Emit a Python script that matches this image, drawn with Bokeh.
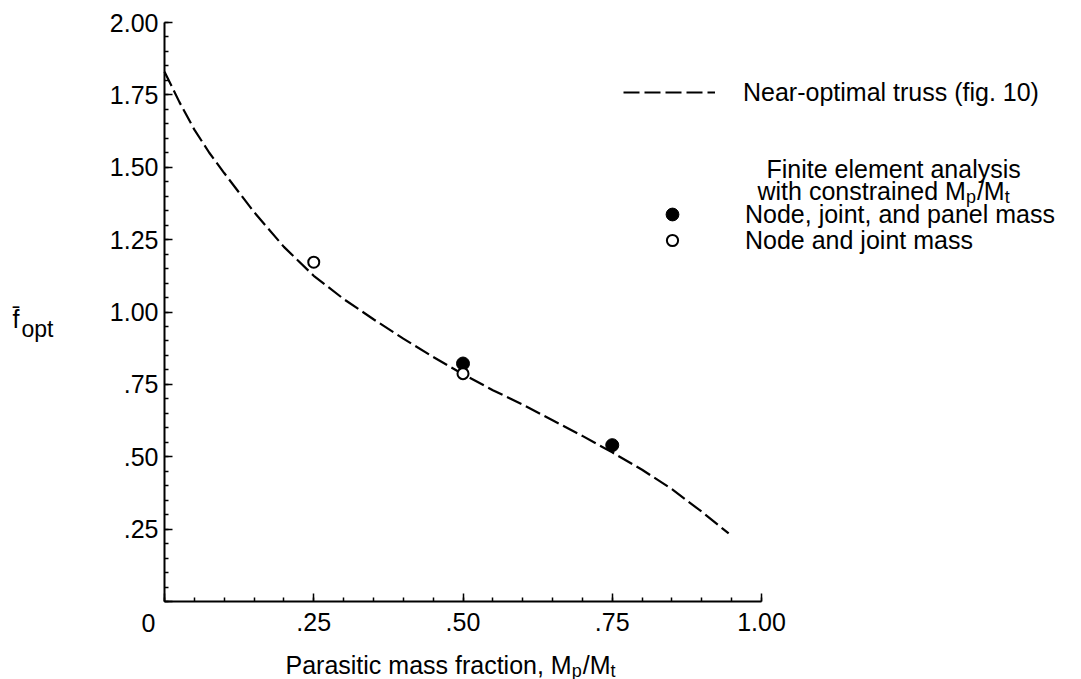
from bokeh.plotting import figure
from bokeh.models import (Range1d, FixedTicker, Label, Legend, LegendItem,
                          LinearAxis, Grid)
from bokeh.embed import file_html
from bokeh.resources import INLINE

# ---------------- data ----------------
curve_x = [0.0, 0.025, 0.05, 0.075, 0.10, 0.15, 0.20, 0.25, 0.30, 0.35, 0.40,
           0.45, 0.50, 0.55, 0.60, 0.65, 0.70, 0.75, 0.80, 0.85, 0.90, 0.945]
curve_y = [1.83, 1.725, 1.63, 1.55, 1.48, 1.345, 1.225, 1.125, 1.045, 0.975, 0.908,
           0.845, 0.785, 0.73, 0.68, 0.626, 0.572, 0.515, 0.455, 0.388, 0.31, 0.235]
full_x = [0.50, 0.75]
full_y = [0.822, 0.540]
open_x = [0.25, 0.50]
open_y = [1.172, 0.787]

x_ticks = [0.0, 0.25, 0.50, 0.75, 1.00]
x_tick_labels = ["", ".25", ".50", ".75", "1.00"]
y_ticks = [0.0, 0.25, 0.50, 0.75, 1.00, 1.25, 1.50, 1.75, 2.00]
y_tick_labels = ["", ".25", ".50", ".75", "1.00", "1.25", "1.50", "1.75", "2.00"]
x_minor = [i * 0.05 for i in range(21)]
y_minor = [i * 0.05 for i in range(41)]

# ---------------- layout ----------------
W, H = 1081, 679
X0, Y0 = 164, 601          # pixel position of the data origin
SX, SY = 597.0, 289.5      # px per data unit
FONT = "Liberation Sans"
FS = 25
SUB = 18

def px2x(px):
    return (px - X0) / SX

def py2y(py):
    return (Y0 - py) / SY

# Helvetica/Arial advance widths (1/1000 em)
_AW = {' ': 278, ',': 278, '-': 333, '.': 278, '/': 278, '(': 333, ')': 333,
       'M': 833, 'N': 722, 'F': 611, 'P': 667}
for _c in "0123456789":
    _AW[_c] = 556
for _c, _w in zip("abcdefghijklmnopqrstuvwxyz",
                  [556, 556, 500, 556, 556, 278, 556, 556, 222, 222, 500, 222, 833,
                   556, 556, 556, 556, 333, 500, 278, 556, 500, 722, 500, 500, 500]):
    _AW[_c] = _w

def tw(s, size):
    return sum(_AW.get(c, 556) for c in s) * size / 1000.0

p = figure(width=W, height=H,
           x_range=Range1d(px2x(0), px2x(W)), y_range=Range1d(py2y(H), py2y(0)),
           x_axis_location=None, y_axis_location=None, min_border=0,
           output_backend="svg", toolbar_location=None)
p.outline_line_color = None
p.background_fill_color = "white"
p.border_fill_color = "white"
for g in p.select(type=Grid):
    g.visible = False

xax = LinearAxis(fixed_location=0)
yax = LinearAxis(fixed_location=0)
p.add_layout(xax, "below")
p.add_layout(yax, "left")

for ax, ticks, labels, minor, bounds in (
        (xax, x_ticks, x_tick_labels, x_minor, (0, 1.0)),
        (yax, y_ticks, y_tick_labels, y_minor, (0, 2.0))):
    ax.ticker = FixedTicker(ticks=ticks, minor_ticks=minor)
    ax.major_label_overrides = {t: s for t, s in zip(ticks, labels)}
    ax.bounds = bounds
    ax.axis_line_width = 2
    ax.axis_line_color = "black"
    ax.major_tick_in = 8
    ax.major_tick_out = 0
    ax.minor_tick_in = 4
    ax.minor_tick_out = 0
    ax.major_tick_line_width = 1.5
    ax.minor_tick_line_width = 1.5
    ax.major_tick_line_color = "black"
    ax.minor_tick_line_color = "black"
    ax.major_label_text_font = FONT
    ax.major_label_text_font_size = f"{FS}px"
    ax.major_label_text_color = "black"
xax.major_label_standoff = 11
yax.major_label_standoff = 6

# ---------------- glyphs ----------------
curve = p.line(curve_x, curve_y, line_color="black", line_width=2.2,
               line_dash="16 5")
full = p.scatter(full_x, full_y, marker="circle", size=13,
                 fill_color="black", line_color="black")
opn = p.scatter(open_x, open_y, marker="circle", size=11,
                fill_color="white", line_color="black", line_width=2)

# ---------------- legends ----------------
def legend(label, rend, left, center, gw, gh, text_x):
    h = max(gh, 30)
    lg = Legend(items=[LegendItem(label=label, renderers=[rend])],
                location=(left, H - (center + h / 2.0)),
                glyph_width=gw, glyph_height=gh, label_height=30,
                label_standoff=text_x - (left + gw), padding=0, margin=0,
                spacing=0, border_line_color=None, background_fill_alpha=0,
                label_text_font=FONT, label_text_font_size=f"{FS}px",
                label_text_color="black")
    p.add_layout(lg)

legend("Near-optimal truss (fig. 10)", curve, 623, 92, 92, 30, 743)
legend("Node, joint, and panel mass", full, 672 - 16, 214, 32, 32, 745)
legend("Node and joint mass", opn, 672 - 14, 240, 28, 28, 745)

# ---------------- text pieces ----------------
def lab(text, px, py, size=FS, align="left", baseline="alphabetic"):
    p.add_layout(Label(x=px2x(px), y=py2y(py), text=text, text_font=FONT,
                       text_font_size=f"{size}px", text_color="black",
                       text_align=align, text_baseline=baseline))

def ratio_text(prefix, px, base):
    """prefix + M_p/M_t with lowered subscripts"""
    x = px
    lab(prefix + "M", x, base)
    x += tw(prefix + "M", FS)
    lab("p", x, base + 6, size=SUB)
    x += tw("p", SUB) + 1
    lab("/M", x, base)
    x += tw("/M", FS)
    lab("t", x, base + 6, size=SUB)

# legend heading
lab("Finite element analysis", 766, 168)
ratio_text("with constrained ", 757, 190)

# x axis label
ratio_text("Parasitic mass fraction, ", 285, 664)

# zero label at the corner
lab("0", 148, 613, align="center", baseline="top")

# y axis label
lab("f\u0304", 12, 318)
lab("opt", 21, 328, size=23)

open("out.html", "w").write(file_html(p, INLINE))
